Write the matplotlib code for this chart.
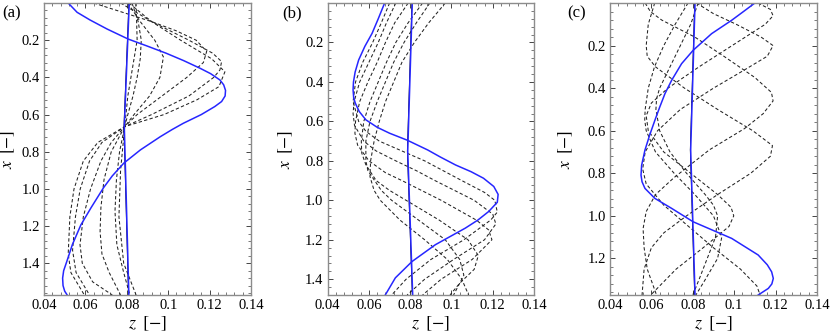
import matplotlib
matplotlib.use("Agg")
import matplotlib.pyplot as plt
from matplotlib.ticker import AutoMinorLocator

plt.rcParams['font.family'] = ['Liberation Serif', 'DejaVu Serif']
plt.rcParams['mathtext.fontset'] = 'stix'

# ---- panel (a) ----
a_blue_x = [0, 0.05, 0.091, 0.14, 0.194, 0.23, 0.27, 0.31, 0.351, 0.38, 0.414, 0.44, 0.47, 0.50,
            0.53, 0.557, 0.60, 0.647, 0.68, 0.719, 0.79, 0.862, 0.93, 0.993, 1.1, 1.194, 1.3,
            1.391, 1.44, 1.48, 1.52, 1.55, 1.5708]
a_blue_z = [0.0517, 0.0560, 0.0622, 0.0705, 0.0807, 0.0895, 0.0990, 0.1075, 0.1154, 0.1205,
            0.1250, 0.1268, 0.1277, 0.1275, 0.1258, 0.1225, 0.1160, 0.1073, 0.1020, 0.0962,
            0.0866, 0.0785, 0.0730, 0.0688, 0.0628, 0.0578, 0.0537, 0.0510, 0.0495, 0.0490,
            0.0492, 0.0500, 0.0512]
a_line_x = [0, 0.665, 1.5708]
a_line_z = [0.0812, 0.0788, 0.0810]
a_dash_x = [
    [0, 0.1, 0.2, 0.3, 0.4, 0.5, 0.6, 0.665, 0.8, 0.95, 1.12, 1.3, 1.45, 1.5708],
    [0, 0.1, 0.2, 0.29, 0.4, 0.5, 0.6, 0.665, 0.8, 0.95, 1.1, 1.23, 1.35, 1.45, 1.5708],
    [0, 0.05, 0.1, 0.15, 0.2, 0.26, 0.32, 0.4, 0.5, 0.6, 0.665, 0.75, 0.85, 1.0, 1.15, 1.3, 1.4, 1.5, 1.5708],
    [0, 0.1, 0.2, 0.27, 0.315, 0.36, 0.4, 0.5, 0.6, 0.665, 0.75, 0.85, 1.0, 1.15, 1.33, 1.45, 1.5708],
    [0, 0.1, 0.2, 0.3, 0.37, 0.45, 0.52, 0.6, 0.665, 0.75, 0.85, 1.0, 1.15, 1.35, 1.45, 1.5708],
    [0, 0.2, 0.5, 0.665, 0.9, 1.15, 1.4, 1.5708],
]
a_dash_z = [
    [0.0825, 0.0855, 0.0870, 0.0865, 0.0850, 0.0830, 0.0805, 0.0790, 0.0765, 0.0750, 0.0743, 0.0752, 0.0785, 0.0815],
    [0.0805, 0.0865, 0.0935, 0.0977, 0.0960, 0.0910, 0.0835, 0.0790, 0.0725, 0.0690, 0.0675, 0.0671, 0.0680, 0.0715, 0.0770],
    [0.0640, 0.0780, 0.0920, 0.1040, 0.1135, 0.1186, 0.1170, 0.1090, 0.0970, 0.0850, 0.0790, 0.0725, 0.0675, 0.0625, 0.0590, 0.0574, 0.0585, 0.0635, 0.0730],
    [0.0770, 0.0920, 0.1100, 0.1215, 0.1258, 0.1250, 0.1220, 0.1100, 0.0920, 0.0790, 0.0680, 0.0620, 0.0575, 0.0552, 0.0538, 0.0555, 0.0620],
    [0.0810, 0.0920, 0.1060, 0.1210, 0.1274, 0.1245, 0.1140, 0.0980, 0.0790, 0.0660, 0.0590, 0.0545, 0.0525, 0.0517, 0.0530, 0.0595],
    [0.0845, 0.0850, 0.0805, 0.0790, 0.0770, 0.0762, 0.0785, 0.0845],
]

# ---- panel (b) ----
b_blue_x = [0, 0.08, 0.154, 0.22, 0.289, 0.35, 0.40, 0.44, 0.48, 0.508, 0.55, 0.592, 0.63, 0.66,
            0.695, 0.745, 0.78, 0.821, 0.855, 0.888, 0.93, 0.97, 1.01, 1.057, 1.10, 1.141, 1.225,
            1.31, 1.393, 1.48]
b_blue_z = [0.0676, 0.0645, 0.0615, 0.0580, 0.0550, 0.0533, 0.0525, 0.0523, 0.0526, 0.0534,
            0.0553, 0.0585, 0.0640, 0.0700, 0.0785, 0.0885, 0.0945, 0.1020, 0.1095, 0.1155,
            0.1205, 0.1226, 0.1222, 0.1180, 0.1128, 0.1067, 0.0922, 0.0809, 0.0728, 0.0679]
b_line_x = [0, 0.75, 1.48]
b_line_z = [0.0810, 0.0788, 0.0812]
b_dash_x = [
    [0, 0.1, 0.2, 0.3, 0.4, 0.5, 0.6, 0.65, 0.7, 0.75, 0.8, 0.9, 0.96, 1.0, 1.06, 1.1, 1.2, 1.3, 1.4, 1.48],
    [0, 0.1, 0.2, 0.3, 0.4, 0.5, 0.56, 0.62, 0.7, 0.75, 0.8, 0.85, 0.9, 1.0, 1.07, 1.12, 1.2, 1.3, 1.4, 1.48],
    [0, 0.1, 0.2, 0.3, 0.4, 0.5, 0.6, 0.66, 0.72, 0.8, 0.86, 0.9, 1.0, 1.1, 1.15, 1.2, 1.3, 1.4, 1.48],
    [0, 0.1, 0.2, 0.3, 0.4, 0.5, 0.6, 0.7, 0.76, 0.82, 0.9, 0.95, 1.0, 1.1, 1.2, 1.28, 1.35, 1.42, 1.48],
    [0, 0.1, 0.2, 0.3, 0.4, 0.5, 0.6, 0.7, 0.8, 0.88, 0.95, 1.0, 1.1, 1.2, 1.3, 1.4, 1.48],
    [0, 0.1, 0.2, 0.3, 0.4, 0.5, 0.6, 0.7, 0.8, 0.85, 0.95, 1.0, 1.1, 1.2, 1.3, 1.38, 1.48],
]
b_dash_z = [
    [0.0700, 0.0660, 0.0618, 0.0570, 0.0535, 0.0523, 0.0550, 0.0585, 0.0650, 0.0760, 0.0870, 0.1050, 0.1160, 0.1210, 0.1222, 0.1190, 0.1060, 0.0900, 0.0780, 0.0710],
    [0.0730, 0.0685, 0.0645, 0.0600, 0.0555, 0.0528, 0.0523, 0.0530, 0.0575, 0.0635, 0.0730, 0.0830, 0.0920, 0.1110, 0.1200, 0.1215, 0.1160, 0.1010, 0.0870, 0.0785],
    [0.0790, 0.0725, 0.0680, 0.0640, 0.0595, 0.0555, 0.0535, 0.0532, 0.0545, 0.0600, 0.0680, 0.0760, 0.0950, 0.1120, 0.1180, 0.1196, 0.1100, 0.0950, 0.0860],
    [0.0860, 0.0790, 0.0730, 0.0685, 0.0645, 0.0605, 0.0575, 0.0563, 0.0565, 0.0585, 0.0635, 0.0700, 0.0780, 0.0940, 0.1080, 0.1130, 0.1110, 0.1040, 0.0993],
    [0.0970, 0.0890, 0.0820, 0.0760, 0.0720, 0.0680, 0.0650, 0.0625, 0.0608, 0.0605, 0.0625, 0.0655, 0.0750, 0.0870, 0.0980, 0.1050, 0.1083],
    [0.0895, 0.0830, 0.0770, 0.0720, 0.0680, 0.0640, 0.0605, 0.0585, 0.0585, 0.0595, 0.0660, 0.0710, 0.0840, 0.0970, 0.1040, 0.1060, 0.1010],
]

# ---- panel (c) ----
c_blue_x = [0, 0.04, 0.081, 0.144, 0.222, 0.285, 0.363, 0.425, 0.49, 0.551, 0.62, 0.691, 0.762,
            0.809, 0.84, 0.871, 0.918, 0.965, 1.028, 1.106, 1.184, 1.23, 1.263, 1.294, 1.32,
            1.341, 1.372]
c_blue_z = [0.1100, 0.1045, 0.0988, 0.0891, 0.0802, 0.0746, 0.0698, 0.0666, 0.0640, 0.0617,
            0.0592, 0.0569, 0.0553, 0.0550, 0.0555, 0.0569, 0.0617, 0.0698, 0.0802, 0.0988,
            0.1116, 0.1160, 0.1181, 0.1189, 0.1182, 0.1165, 0.1116]
c_line_x = [0, 0.69, 1.372]
c_line_z = [0.0811, 0.0790, 0.0811]
c_dash_x = [
    [0, 0.04, 0.08, 0.16, 0.25, 0.35, 0.42, 0.46, 0.52, 0.59, 0.69, 0.82, 0.90, 0.98, 1.06, 1.15, 1.25, 1.372],
    [0, 0.03, 0.06, 0.1, 0.2, 0.3, 0.4, 0.47, 0.53, 0.6, 0.7, 0.8, 0.9, 0.96, 1.0, 1.05, 1.15, 1.25, 1.372],
    [0, 0.05, 0.1, 0.16, 0.2, 0.25, 0.32, 0.4, 0.5, 0.6, 0.7, 0.78, 0.85, 0.95, 1.05, 1.15, 1.25, 1.33, 1.372],
    [0, 0.1, 0.2, 0.25, 0.3, 0.4, 0.5, 0.6, 0.67, 0.72, 0.8, 0.9, 1.0, 1.08, 1.15, 1.25, 1.372],
    [0, 0.1, 0.2, 0.3, 0.4, 0.5, 0.55, 0.6, 0.7, 0.8, 0.9, 1.0, 1.1, 1.2, 1.3, 1.372],
    [0, 0.1, 0.2, 0.3, 0.4, 0.45, 0.5, 0.6, 0.7, 0.8, 0.9, 0.95, 1.0, 1.1, 1.2, 1.3, 1.372],
]
c_dash_z = [
    [0.0570, 0.0595, 0.0650, 0.0810, 0.0950, 0.1100, 0.1180, 0.1188, 0.1140, 0.1050, 0.0880, 0.0710, 0.0620, 0.0575, 0.0560, 0.0565, 0.0580, 0.0625],
    [0.1115, 0.1175, 0.1188, 0.1150, 0.0990, 0.0830, 0.0680, 0.0600, 0.0575, 0.0585, 0.0660, 0.0790, 0.0920, 0.0985, 0.0998, 0.0975, 0.0850, 0.0720, 0.0597],
    [0.0818, 0.0900, 0.1010, 0.1130, 0.1188, 0.1160, 0.1040, 0.0900, 0.0740, 0.0630, 0.0570, 0.0558, 0.0575, 0.0660, 0.0780, 0.0900, 0.1030, 0.1110, 0.1125],
    [0.0616, 0.0585, 0.0575, 0.0580, 0.0620, 0.0760, 0.0920, 0.1090, 0.1185, 0.1175, 0.1080, 0.0920, 0.0770, 0.0660, 0.0600, 0.0565, 0.0555],
    [0.0777, 0.0715, 0.0660, 0.0615, 0.0585, 0.0570, 0.0568, 0.0575, 0.0620, 0.0710, 0.0810, 0.0900, 0.0940, 0.0920, 0.0860, 0.0815],
    [0.0826, 0.0790, 0.0740, 0.0690, 0.0640, 0.0625, 0.0622, 0.0640, 0.0690, 0.0770, 0.0860, 0.0900, 0.0920, 0.0910, 0.0870, 0.0830, 0.0800],
]

z_ticks = [0.04, 0.06, 0.08, 0.10, 0.12, 0.14]
z_labels = ['0.04', '0.06', '0.08', '0.1', '0.12', '0.14']
x_ticks = [0.2, 0.4, 0.6, 0.8, 1.0, 1.2, 1.4]
x_labels = ['0.2', '0.4', '0.6', '0.8', '1.0', '1.2', '1.4']
x_max = [1.5708, 1.48, 1.372]
panel_names = ['(a)', '(b)', '(c)']

BLUE = '#2626ff'
FRAME = '#8c8c8c'

fig = plt.figure(figsize=(8.3, 3.36), dpi=100)
boxes = [[0.0530, 0.122, 0.2494, 0.869],
         [0.3948, 0.122, 0.2486, 0.869],
         [0.7349, 0.122, 0.2494, 0.869]]
name_x = [0.003, 0.340, 0.684]
ylab_x = [-0.128, -0.158, -0.168]

panels = [(a_blue_x, a_blue_z, a_line_x, a_line_z, a_dash_x, a_dash_z),
          (b_blue_x, b_blue_z, b_line_x, b_line_z, b_dash_x, b_dash_z),
          (c_blue_x, c_blue_z, c_line_x, c_line_z, c_dash_x, c_dash_z)]

for i, (bx, bz, lx, lz, dxs, dzs) in enumerate(panels):
    ax = fig.add_axes(boxes[i])
    for dx, dz in zip(dxs, dzs):
        ax.plot(dz, dx, color='#222222', lw=0.75, linestyle=(0, (3.2, 2.2)))
    ax.plot([z - 0.0002 for z in lz], lx, color='black', lw=0.6)
    ax.plot(lz, lx, color=BLUE, lw=1.1)
    ax.plot(bz, bx, color=BLUE, lw=1.1)

    ax.set_xlim(0.04, 0.14)
    ax.set_ylim(x_max[i], 0)
    ax.set_xticks(z_ticks)
    ax.set_xticklabels(z_labels)
    ticks = [t for t in x_ticks if t < x_max[i]]
    ax.set_yticks(ticks)
    ax.set_yticklabels(x_labels[:len(ticks)])
    ax.xaxis.set_minor_locator(AutoMinorLocator(5))
    ax.yaxis.set_minor_locator(AutoMinorLocator(5))
    ax.tick_params(which='both', direction='in', top=True, right=True,
                   color='#444444', labelsize=10.5, pad=3)
    ax.tick_params(which='major', length=3.5, width=0.7)
    ax.tick_params(which='minor', length=2, width=0.5)
    for sp in ax.spines.values():
        sp.set_color(FRAME)
        sp.set_linewidth(1.0)

    ax.set_xlabel(r'$z\;\;[-]$', fontsize=13, labelpad=2)
    ax.set_ylabel(r'$x\;\;[-]$', fontsize=12.5)
    ax.yaxis.set_label_coords(ylab_x[i], 0.5)
    fig.text(name_x[i], 0.985, panel_names[i], fontsize=12, va='top', ha='left')

fig.savefig('out.png', dpi=100)
